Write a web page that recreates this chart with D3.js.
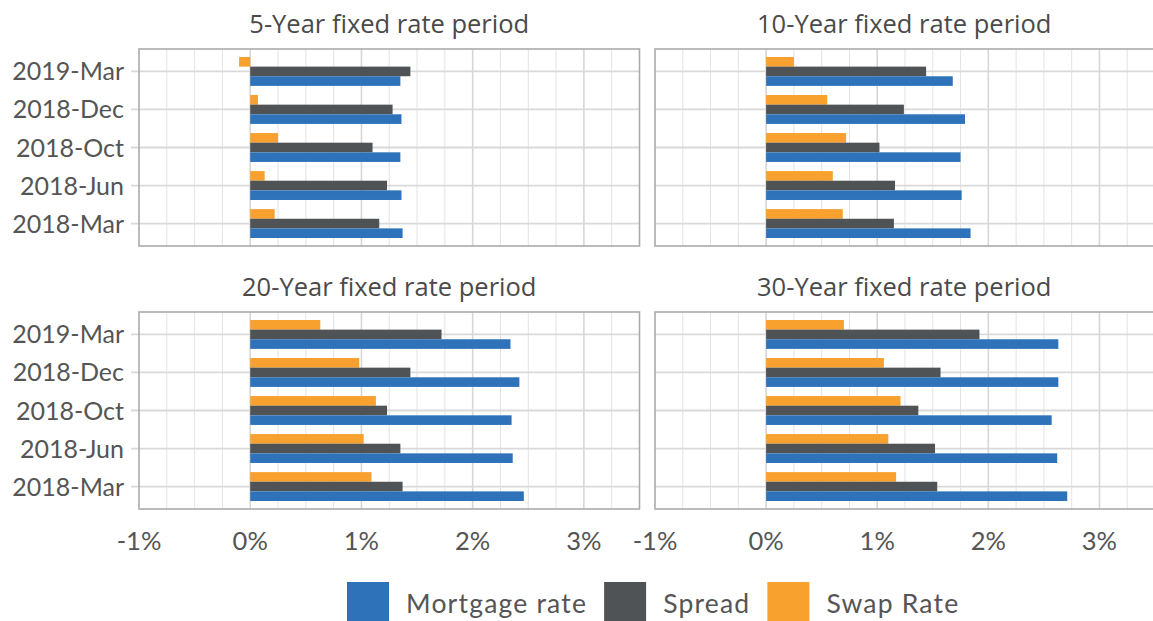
<!DOCTYPE html>
<html>
<head>
<meta charset="utf-8">
<script src="https://cdn.jsdelivr.net/npm/d3@7"></script>
<style>
  body { margin: 0; background: #fff; }
  svg { display: block; }
</style>
</head>
<body>
<svg id="chart" width="1153" height="621"></svg>
<script>
  var categories = ['2019-Mar', '2018-Dec', '2018-Oct', '2018-Jun', '2018-Mar'];
  var periods = ['5-Year fixed rate period', '10-Year fixed rate period', '20-Year fixed rate period', '30-Year fixed rate period'];
  var seriesNames = ['Mortgage rate', 'Spread', 'Swap Rate'];
  var xTicks = [-1, 0, 1, 2, 3];

  // values in %, same order as categories
  var mortgage5 = [1.35, 1.36, 1.35, 1.36, 1.37];
  var spread5 = [1.44, 1.28, 1.10, 1.23, 1.16];
  var swap5 = [-0.10, 0.07, 0.25, 0.13, 0.22];

  var mortgage10 = [1.68, 1.79, 1.75, 1.76, 1.84];
  var spread10 = [1.44, 1.24, 1.02, 1.16, 1.15];
  var swap10 = [0.25, 0.55, 0.72, 0.60, 0.69];

  var mortgage20 = [2.34, 2.42, 2.35, 2.36, 2.46];
  var spread20 = [1.72, 1.44, 1.23, 1.35, 1.37];
  var swap20 = [0.63, 0.98, 1.13, 1.02, 1.09];

  var mortgage30 = [2.63, 2.63, 2.57, 2.62, 2.71];
  var spread30 = [1.92, 1.57, 1.37, 1.52, 1.54];
  var swap30 = [0.70, 1.06, 1.21, 1.10, 1.17];

  var mortgageAll = [mortgage5, mortgage10, mortgage20, mortgage30];
  var spreadAll = [spread5, spread10, spread20, spread30];
  var swapAll = [swap5, swap10, swap20, swap30];

  var colors = {'Mortgage rate': '#2e73b9', 'Spread': '#4f5355', 'Swap Rate': '#f8a12e'};
  var barOrder = ['Swap Rate', 'Spread', 'Mortgage rate'];

  var svg = d3.select('#chart');
  var labelFont = 'Lato, sans-serif';
  var titleFont = '"Open Sans", sans-serif';

  var cols = [[139, 639.5], [655, 1155]];
  var rows = [[49, 246], [312, 509]];

  periods.forEach(function(title, p) {
    var col = p % 2, row = Math.floor(p / 2);
    var x = d3.scaleLinear().domain([-1, 3.5]).range(cols[col]);
    var y = d3.scaleBand().domain(categories).range(rows[row]).paddingInner(0.24).paddingOuter(0.21);
    var ySub = d3.scaleBand().domain(barOrder).range([0, y.bandwidth()]);
    var g = svg.append('g');
    var x0 = cols[col][0], x1 = cols[col][1], y0 = rows[row][0], y1 = rows[row][1];

    // minor vertical grid
    g.selectAll('.minor').data(d3.range(-0.75, 3.5, 0.25).filter(function(v) {
      return Math.abs(v - Math.round(v)) > 0.01;
    })).enter().append('line')
      .attr('x1', function(d) { return x(d); }).attr('x2', function(d) { return x(d); })
      .attr('y1', y0).attr('y2', y1)
      .attr('stroke', '#e3e3e3').attr('stroke-width', 1);

    // major vertical grid
    g.selectAll('.major').data([0, 1, 2, 3]).enter().append('line')
      .attr('x1', function(d) { return x(d); }).attr('x2', function(d) { return x(d); })
      .attr('y1', y0).attr('y2', y1)
      .attr('stroke', '#d6d6d6').attr('stroke-width', 1.6);

    // horizontal grid at categories
    g.selectAll('.hgrid').data(categories).enter().append('line')
      .attr('x1', col === 0 ? x0 - 8 : x0).attr('x2', x1)
      .attr('y1', function(d) { return y(d) + y.bandwidth() / 2; })
      .attr('y2', function(d) { return y(d) + y.bandwidth() / 2; })
      .attr('stroke', '#d9d9d9').attr('stroke-width', 1.8);

    // bars
    var values = {'Mortgage rate': mortgageAll[p], 'Spread': spreadAll[p], 'Swap Rate': swapAll[p]};
    barOrder.forEach(function(s) {
      g.selectAll('.bar-' + s.replace(' ', '')).data(values[s]).enter().append('rect')
        .attr('x', function(d) { return x(Math.min(0, d)); })
        .attr('width', function(d) { return Math.abs(x(d) - x(0)); })
        .attr('y', function(d, i) { return y(categories[i]) + ySub(s); })
        .attr('height', ySub.bandwidth())
        .attr('fill', colors[s]);
    });

    // frame
    g.append('rect')
      .attr('x', x0).attr('y', y0).attr('width', x1 - x0).attr('height', y1 - y0)
      .attr('fill', 'none').attr('stroke', '#ababab').attr('stroke-width', 1.6);

    // title
    svg.append('text')
      .attr('x', (x0 + Math.min(x1, 1153.5)) / 2)
      .attr('y', y0 - 16)
      .attr('text-anchor', 'middle')
      .attr('font-family', titleFont).attr('font-size', 25.5)
      .attr('fill', '#4a4a4a')
      .text(title);

    // y labels
    if (col === 0) {
      g.selectAll('.ylab').data(categories).enter().append('text')
        .attr('x', x0 - 15)
        .attr('y', function(d) { return y(d) + y.bandwidth() / 2; })
        .attr('dy', '0.36em')
        .attr('text-anchor', 'end')
        .attr('font-family', labelFont).attr('font-size', 25)
        .attr('fill', '#555')
        .text(function(d) { return d; });
    }

    // x tick labels
    if (row === 1) {
      g.selectAll('.xlab').data(xTicks).enter().append('text')
        .attr('x', function(d) { return x(d); })
        .attr('y', 550)
        .attr('text-anchor', 'middle')
        .attr('font-family', labelFont).attr('font-size', 25.5)
        .attr('fill', '#555')
        .text(function(d) { return d + '%'; });
    }
  });

  // legend
  var legend = svg.append('g');
  var lx = 347;
  seriesNames.forEach(function(s) {
    legend.append('rect').attr('x', lx).attr('y', 582).attr('width', 42).attr('height', 42).attr('fill', colors[s]);
    var t = legend.append('text')
      .attr('x', lx + 59).attr('y', 613)
      .attr('font-family', labelFont).attr('font-size', 26.5)
      .attr('letter-spacing', 1.2)
      .attr('fill', '#555')
      .text(s);
    lx = lx + 59 + t.node().getComputedTextLength() + 17;
  });
</script>
</body>
</html>
